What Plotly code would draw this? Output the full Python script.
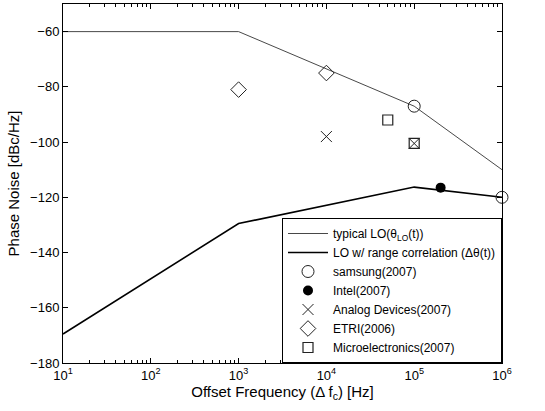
import plotly.graph_objects as go

# Data
lo_freq = [10, 1e3, 1e5, 1e6]
lo_typical = [-60, -60, -87, -110]
rc_freq = [10, 1e3, 1e5, 1e6]
lo_range_corr = [-169.5, -129.5, -116.3, -120]

samsung_f = [1e5, 1e6]
samsung_pn = [-87, -120]
intel_f = [2e5]
intel_pn = [-116.5]
analog_f = [1e4, 1e5]
analog_pn = [-98, -100.5]
etri_f = [1e3, 1e4]
etri_pn = [-81, -75]
micro_f = [5e4, 1e5]
micro_pn = [-92, -100.5]

x_tickvals = [10, 100, 1e3, 1e4, 1e5, 1e6]
x_ticktext = ["10<sup>1</sup>", "10<sup>2</sup>", "10<sup>3</sup>", "10<sup>4</sup>", "10<sup>5</sup>", "10<sup>6</sup>"]
x_minorvals = [m * d for d in [10, 100, 1e3, 1e4, 1e5] for m in range(2, 10)]
y_tickvals = [-60, -80, -100, -120, -140, -160, -180]

fig = go.Figure()
fig.add_trace(go.Scatter(x=lo_freq, y=lo_typical, mode="lines", name="typical LO(θ<sub>LO</sub>(t))",
                         line=dict(color="#333333", width=0.9)))
fig.add_trace(go.Scatter(x=rc_freq, y=lo_range_corr, mode="lines", name="LO w/ range correlation (Δθ(t))",
                         line=dict(color="black", width=1.6)))
fig.add_trace(go.Scatter(x=samsung_f, y=samsung_pn, mode="markers", name="samsung(2007)", cliponaxis=False,
                         marker=dict(symbol="circle-open", size=12, color="#222", line=dict(width=1))))
fig.add_trace(go.Scatter(x=intel_f, y=intel_pn, mode="markers", name="Intel(2007)", cliponaxis=False,
                         marker=dict(symbol="circle", size=10, color="black")))
fig.add_trace(go.Scatter(x=analog_f, y=analog_pn, mode="markers", name="Analog Devices(2007)", cliponaxis=False,
                         marker=dict(symbol="x-thin-open", size=11, color="#222", line=dict(width=1))))
fig.add_trace(go.Scatter(x=etri_f, y=etri_pn, mode="markers", name="ETRI(2006)", cliponaxis=False,
                         marker=dict(symbol="diamond-open", size=12, color="#222", line=dict(width=1))))
fig.add_trace(go.Scatter(x=micro_f, y=micro_pn, mode="markers", name="Microelectronics(2007)", cliponaxis=False,
                         marker=dict(symbol="square-open", size=10, color="#222", line=dict(width=1.2))))

fig.update_layout(
    width=545, height=411,
    margin=dict(l=63, r=43, t=4, b=48),
    plot_bgcolor="white", paper_bgcolor="white",
    font=dict(family="Liberation Sans, Arial", color="black", size=13),
    showlegend=True,
    legend=dict(x=1, y=0, xanchor="right", yanchor="bottom", bordercolor="black", borderwidth=1,
                bgcolor="white", font=dict(size=12), tracegroupgap=0, itemwidth=40),
)
fig.update_xaxes(type="log", range=[1, 6], tickvals=x_tickvals, ticktext=x_ticktext,
                 showgrid=False, zeroline=False, showline=True, linecolor="black", linewidth=1, mirror="ticks",
                 ticks="inside", ticklen=5, tickcolor="black",
                 minor=dict(tickvals=x_minorvals, ticks="inside", ticklen=3, tickcolor="black", showgrid=False),
                 title=dict(text="Offset Frequency (Δ f<sub>c</sub>) [Hz]", font=dict(size=15), standoff=4),
                 tickfont=dict(size=13))
fig.update_yaxes(range=[-180, -50], tickvals=y_tickvals,
                 showgrid=False, zeroline=False, showline=True, linecolor="black", linewidth=1, mirror="ticks",
                 ticks="inside", ticklen=5, tickcolor="black",
                 title=dict(text="Phase Noise [dBc/Hz]", font=dict(size=15), standoff=6),
                 tickfont=dict(size=13))

fig.write_html("out.html")
